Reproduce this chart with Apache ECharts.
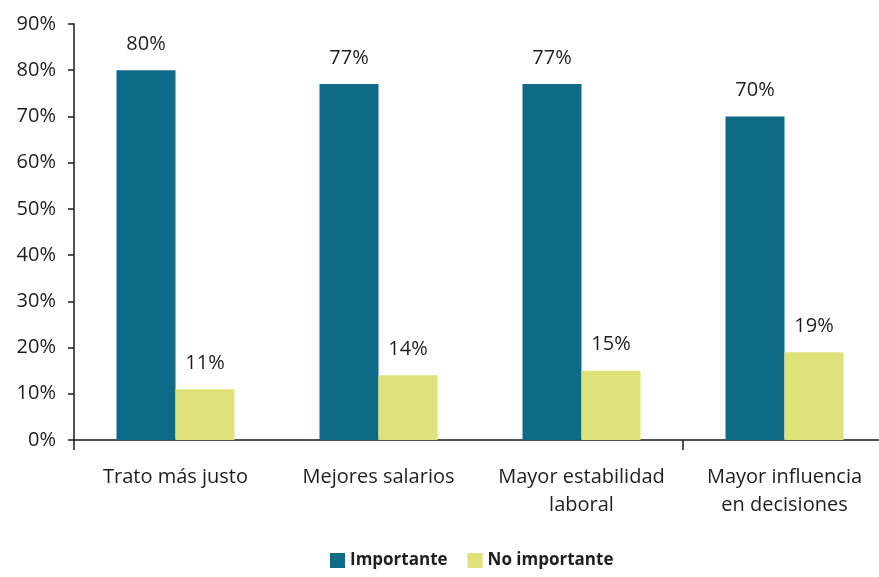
<!DOCTYPE html>
<html>
<head>
<meta charset="utf-8">
<script src="https://cdn.jsdelivr.net/npm/echarts@6/dist/echarts.min.js"></script>
<style>
  html, body { margin: 0; padding: 0; background: #ffffff; }
  #chart { width: 879px; height: 577px; }
</style>
</head>
<body>
<div id="chart"></div>
<script>
// Razones para afiliarse: porcentaje de respuestas por categoría
const categories = ['Trato más justo', 'Mejores salarios', 'Mayor estabilidad\nlaboral', 'Mayor influencia\nen decisiones'];
const importante = [80, 77, 77, 70];
const noImportante = [11, 14, 15, 19];
const yTicks = [0, 10, 20, 30, 40, 50, 60, 70, 80, 90];

const FONT = 'Open Sans';
const TEXT = '#1e1e1e';
const AXIS = '#1a1a1a';

const chart = echarts.init(document.getElementById('chart'), null, { renderer: 'canvas' });

const labelStyle = {
  show: true,
  position: 'top',
  distance: 16,
  formatter: p => p.value + '%',
  fontFamily: FONT,
  fontSize: 20,
  color: TEXT
};

chart.setOption({
  animation: false,
  backgroundColor: '#ffffff',
  textStyle: { fontFamily: FONT },
  grid: { left: 74, top: 24, width: 812, bottom: 137, outerBoundsMode: 'none', containLabel: false },
  legend: {
    bottom: 3,
    left: 325,
    itemWidth: 15,
    itemHeight: 15,
    itemGap: 20,
    icon: 'rect',
    textStyle: { fontFamily: FONT, fontSize: 17, fontWeight: 'bold', color: TEXT }
  },
  xAxis: {
    type: 'category',
    data: categories,
    axisLine: { lineStyle: { color: AXIS, width: 1.5 } },
    // only the axis origin and the divider before the last group carry a tick
    axisTick: {
      show: true,
      length: 10,
      interval: idx => idx === 0 || idx === 3,
      lineStyle: { color: AXIS, width: 1.5 }
    },
    axisLabel: {
      interval: 0,
      margin: 23,
      fontFamily: FONT,
      fontSize: 20,
      lineHeight: 28,
      color: TEXT
    },
    splitLine: { show: false }
  },
  yAxis: {
    type: 'value',
    min: yTicks[0],
    max: yTicks[yTicks.length - 1],
    interval: 10,
    axisLine: { show: true, lineStyle: { color: AXIS, width: 1.5 } },
    axisTick: { show: true, length: 6, lineStyle: { color: AXIS, width: 1.5 } },
    axisLabel: {
      margin: 18,
      formatter: v => v + '%',
      fontFamily: FONT,
      fontSize: 20,
      color: TEXT
    },
    splitLine: { show: false }
  },
  series: [
    {
      name: 'Importante',
      type: 'bar',
      data: importante,
      barWidth: 59,
      barGap: '0%',
      itemStyle: { color: '#0f6a87' },
      label: labelStyle
    },
    {
      name: 'No importante',
      type: 'bar',
      data: noImportante,
      barWidth: 59,
      barGap: '0%',
      itemStyle: { color: '#dfe27a' },
      label: labelStyle
    }
  ]
});
</script>
</body>
</html>
